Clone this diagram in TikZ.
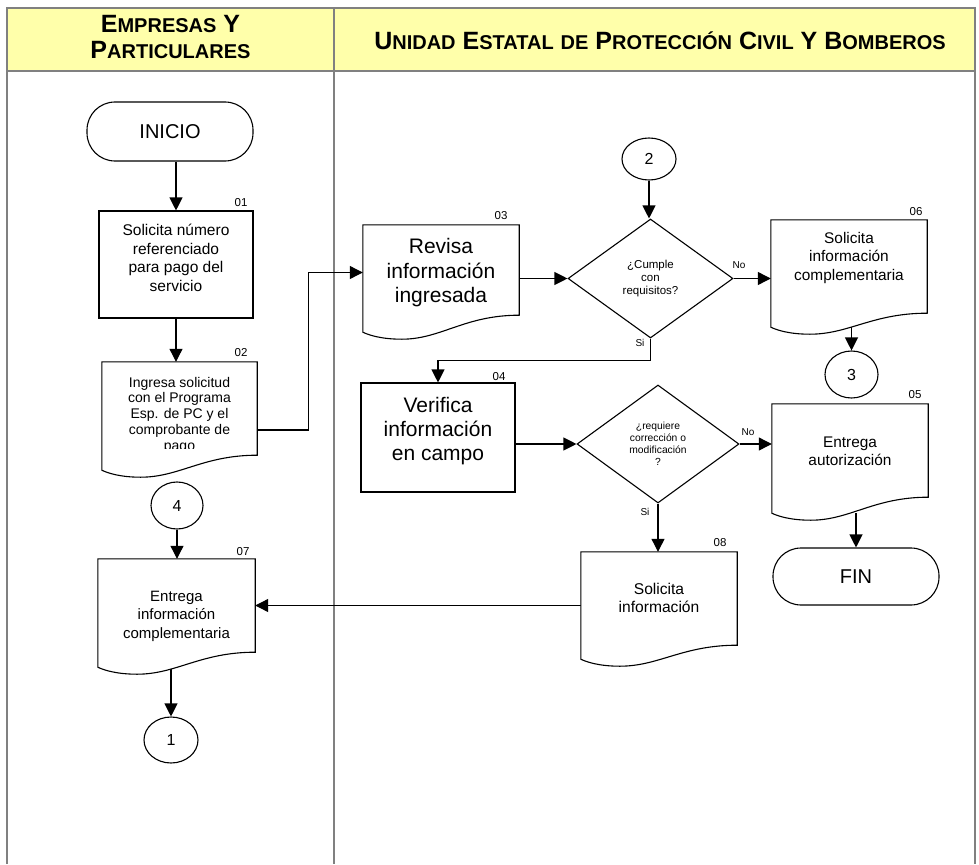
\documentclass[tikz,border=0pt]{standalone}
\usepackage{fontspec}
\setmainfont{Liberation Sans}
\usetikzlibrary{arrows.meta,shapes.geometric,calc}
\definecolor{hdr}{RGB}{255,255,170}
\definecolor{lanegray}{RGB}{128,128,128}
\newcommand\fsz[2]{\fontsize{#1}{#2}\selectfont}
\newcommand\SC[2]{{\fsz{25}{26}#1}{\fsz{20}{26}#2}}
\newcommand\docshape[2]{%
  \path[shp] let \p1=(#1.north west), \p2=(#1.south east) in
    (\x1,\y1) -- (\x2,\y1) -- (\x2,\y2+#2pt)
    .. controls ({\x2-0.35*(\x2-\x1)},{\y2+#2pt}) and ({\x1+0.5*(\x2-\x1)},{\y2-7pt}) .. ({\x1+0.25*(\x2-\x1)},{\y2-7pt})
    .. controls ({\x1+0.12*(\x2-\x1)},{\y2-7pt}) and ({\x1+0.04*(\x2-\x1)},{\y2-3pt}) .. (\x1,\y2) -- cycle;}
\begin{document}
\begin{tikzpicture}[x=1pt,y=-1pt,
  lane/.style={draw=lanegray,line width=2pt},
  shp/.style={draw=black,line width=1.1pt,fill=white},
  geo/.style 2 args={inner sep=0pt,minimum width=#1pt,minimum height=#2pt},
  rectbox/.style={shp,rectangle},
  term/.style={shp,rectangle,rounded corners=28pt,font=\fsz{20}{22}},
  dia/.style={shp,diamond,inner sep=0pt,align=center},
  conn/.style={shp,ellipse,inner sep=0pt,font=\fsz{16}{18}},
  arr/.style={draw=black,line width=1.1pt,-{Triangle[length=13pt,width=13pt]}},
  txt/.style={align=center,inner sep=0pt},
  num/.style={inner sep=0pt,font=\fsz{11.5}{13}},
  yn/.style={inner sep=0pt,font=\fsz{10}{12}}]
\useasboundingbox (0,0) rectangle (979,864);
% header and lanes
\fill[hdr] (7,8) rectangle (975,71);
\draw[lane] (7,864) -- (7,8) -- (975,8) -- (975,864);
\draw[lane] (7,71) -- (975,71);
\draw[lane] (334,8) -- (334,864);
\node[txt,font=\bfseries\fsz{25}{26}] (h1) at (170.5,37) {\bfseries\SC{E}{MPRESAS} \SC{Y}{}\\\bfseries\SC{P}{ARTICULARES}};
\node[txt,font=\bfseries\fsz{25}{26}] (h2) at (660,41) {\bfseries\SC{U}{NIDAD} \SC{E}{STATAL} \SC{}{DE} \SC{P}{ROTECCIÓN} \SC{C}{IVIL} \SC{Y}{} \SC{B}{OMBEROS}};
% drawn nodes
\node[term,geo={166}{59}] (ini) at (170,131.5) {INICIO};
\node[term,geo={166}{57}] (fin) at (856,576.5) {FIN};
\node[rectbox,geo={154}{107}] (b01) at (176,264.5) {};
\node[rectbox,geo={154}{109}] (b04) at (438,437.5) {};
\node[dia,geo={165}{119},font=\fsz{11.5}{13}] (d1) at (650.5,278.5) {¿Cumple\\con\\requisitos?};
\node[dia,geo={162}{118},font=\fsz{10.3}{12}] (d2) at (658,444) {¿requiere\\corrección o\\modificación\\?};
\node[conn,geo={54}{42}] (c2) at (649,159) {2};
\node[conn,geo={53}{47}] (c3) at (851.5,374.5) {3};
\node[conn,geo={52}{47}] (c4) at (177,505.5) {4};
\node[conn,geo={54}{46}] (c1) at (171,740) {1};
% document geometry
\node[geo={155}{108}] (b02) at (179.5,416) {};
\node[geo={156}{107}] (b03) at (441,278.5) {};
\node[geo={156}{107}] (b06) at (849,273.5) {};
\node[geo={156}{109}] (b05) at (850,458.5) {};
\node[geo={156}{107}] (b08) at (659,605.5) {};
\node[geo={157}{108}] (b07) at (176.5,613) {};
% connectors
\draw[arr] (ini.south -| b01.north) -- (b01.north);
\draw[arr] (b01.south) -- (b01.south |- b02.north);
\draw[arr] ([yshift=-14pt]b02.east) -- ++(51,0) |- ([yshift=6pt]b03.west);
\draw[arr] (c2.south) -- (c2.south |- d1.north);
\draw[arr] (b03.east |- d1.west) -- (d1.west);
\draw[arr] (d1.east) -- (d1.east -| b06.west);
\draw[arr] (b06.south -| c3.north) -- (c3.north);
\draw[arr] (d1.south) -- ++(0,22) -| (b04.north);
\draw[arr] (b04.east |- d2.west) -- (d2.west);
\draw[arr] (d2.east) -- (d2.east -| b05.west);
\draw[arr] (b05.south -| fin.north) -- (fin.north);
\draw[arr] (d2.south) -- (d2.south |- b08.north);
\draw[arr] (b08.west) -- (b08.west -| b07.east);
\draw[arr] (c4.south) -- (c4.south |- b07.north);
\draw[arr] (b07.south -| c1.north) -- (c1.north);
% document shapes
\docshape{b02}{15}
\docshape{b03}{17}
\docshape{b06}{14}
\docshape{b05}{16}
\docshape{b08}{14}
\docshape{b07}{15}
% texts
\node[txt,font=\fsz{15.5}{18.5}] (t01) at (176,258) {Solicita número\\referenciado\\para pago del\\servicio};
\begin{scope}
\clip (102,362) rectangle (257,448);
\node[txt,font=\fsz{14}{15.8}] (t02) at (179.5,415) {Ingresa solicitud\\con el Programa\\Esp. de PC y el\\comprobante de\\pago};
\end{scope}
\node[txt,font=\fsz{21}{24.5}] (t03) at (441,273) {Revisa\\información\\ingresada};
\node[txt,font=\fsz{21}{24}] (t04) at (438,431) {Verifica\\información\\en campo};
\node[txt,font=\fsz{15.4}{18.5}] (t06) at (849,258) {Solicita\\información\\complementaria};
\node[txt,font=\fsz{15.4}{18}] (t05) at (850,451) {Entrega\\autorización};
\node[txt,font=\fsz{15.6}{18}] (t08) at (659,598) {Solicita\\información};
\node[txt,font=\fsz{15}{18.5}] (t07) at (176.5,616) {Entrega\\información\\complementaria};
% numbers
\node[num] (n01) at (241,203) {01};
\node[num] (n02) at (241,353) {02};
\node[num] (n03) at (501,216) {03};
\node[num] (n04) at (499,377) {04};
\node[num] (n05) at (915,395) {05};
\node[num] (n06) at (916,212) {06};
\node[num] (n07) at (243,552) {07};
\node[num] (n08) at (720,543) {08};
% yes/no
\node[yn] (no1) at (739,265) {No};
\node[yn] (si1) at (640,343) {Si};
\node[yn] (no2) at (748,432) {No};
\node[yn] (si2) at (645,512) {Si};
\end{tikzpicture}
\end{document}
